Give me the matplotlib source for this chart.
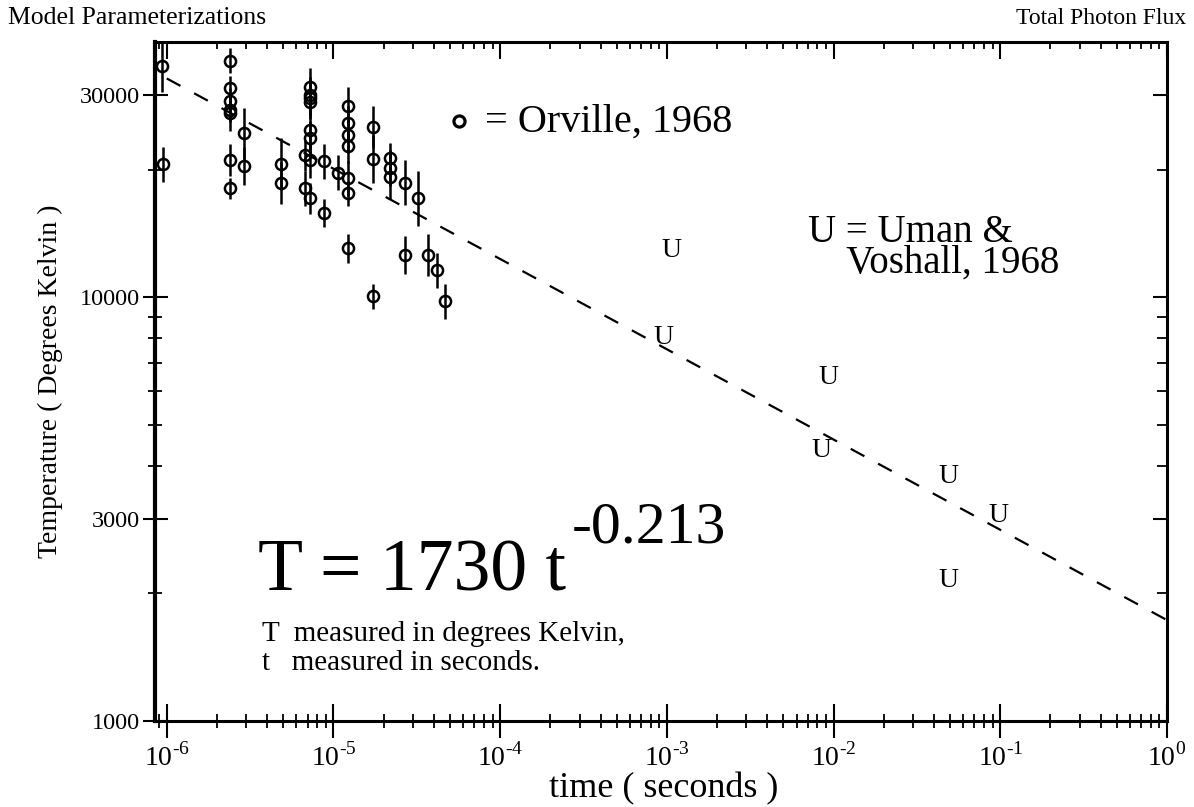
import numpy as np
import matplotlib
matplotlib.use("Agg")
import matplotlib.pyplot as plt
from matplotlib.ticker import FixedLocator, LogLocator, NullFormatter, FuncFormatter

plt.rcParams['font.family'] = ['Liberation Serif', 'DejaVu Serif']
plt.rcParams['mathtext.fontset'] = 'custom'
plt.rcParams['mathtext.rm'] = 'Liberation Serif'

### Data ###
# Orville (1968): time (s), temperature (K), fractional error bar
orville_t = [0.94e-6, 0.95e-6,
             2.4e-6, 2.4e-6, 2.4e-6, 2.4e-6, 2.4e-6, 2.4e-6, 2.4e-6,
             2.9e-6, 2.9e-6,
             4.86e-6, 4.86e-6,
             6.78e-6, 6.78e-6,
             7.24e-6, 7.24e-6, 7.24e-6, 7.24e-6, 7.24e-6, 7.24e-6, 7.24e-6, 7.24e-6,
             8.75e-6, 8.75e-6,
             1.07e-5,
             1.22e-5, 1.22e-5, 1.22e-5, 1.22e-5, 1.22e-5, 1.22e-5, 1.22e-5,
             1.72e-5, 1.72e-5, 1.72e-5,
             2.19e-5, 2.19e-5, 2.19e-5,
             2.69e-5, 2.69e-5,
             3.2e-5, 3.67e-5, 4.18e-5, 4.69e-5]
orville_T = [35100, 20600,
             36100, 31100, 29100, 27650, 27200, 21100, 18050,
             24350, 20380,
             20600, 18600,
             21600, 18050,
             31300, 30000, 29450, 28900, 24800, 23700, 21050, 17100,
             20950, 15800,
             19650,
             28250, 25700, 24130, 22740, 19090, 17570, 13030,
             25250, 21180, 10040,
             21250, 20170, 19230,
             18600, 12560,
             17100, 12560, 11560, 9790]
orville_err = [0.15, 0.10,
               0.07, 0.07, 0.07, 0.07, 0.10, 0.09, 0.06,
               0.15, 0.11,
               0.15, 0.12,
               0.09, 0.10,
               0.11, 0.10, 0.10, 0.10, 0.10, 0.10, 0.10, 0.09,
               0.10, 0.08,
               0.10,
               0.11, 0.10, 0.10, 0.10, 0.10, 0.07, 0.08,
               0.12, 0.14, 0.07,
               0.09, 0.10, 0.13,
               0.13, 0.11,
               0.16, 0.12, 0.10, 0.10]

# Uman & Voshall (1968)
uman_t = [1.06e-3, 0.96e-3, 0.93e-2, 0.84e-2, 0.049, 0.097, 0.049]
uman_T = [12900, 8050, 6450, 4340, 3780, 3060, 2150]

# power law fit T = A * t^B
fit_A = 1730
fit_B = -0.213

x_decades = [-6, -5, -4, -3, -2, -1, 0]
y_major = [1000, 3000, 10000, 30000]
y_minor = [2000, 4000, 5000, 6000, 7000, 8000, 9000, 20000]
y_labels = ["1000", "3000", "10000", "30000"]
##############

x_major = [10.0 ** d for d in x_decades]

fig = plt.figure(figsize=(11.94, 8.07), dpi=100)
ax = fig.add_axes([155 / 1194, 1 - 721 / 807, 1012 / 1194, 679 / 807])
ax.set_xscale('log')
ax.set_yscale('log')
ax.set_xlim(8.5e-7, 1)
ax.set_ylim(1000, 40000)

# error bars + open circles
t = np.array(orville_t)
T = np.array(orville_T)
e = np.array(orville_err)
ax.errorbar(t, T, yerr=[T - T / (1 + e), T * (1 + e) - T], fmt='o',
            mfc='none', mec='black', ms=8, mew=1.8,
            ecolor='black', elinewidth=1.8, capsize=0, zorder=3)

# fitted line
t_fit = np.logspace(-6, 0, 300)
ax.plot(t_fit, fit_A * t_fit ** fit_B, color='black', lw=1.6,
        linestyle=(0, (7, 7)), zorder=2)

for ut, uT in zip(uman_t, uman_T):
    ax.text(ut, uT, 'U', ha='center', va='center', fontsize=20, zorder=4)

# annotations
ax.plot([0.3004], [0.884], 'o', transform=ax.transAxes, mfc='none', mec='black',
        ms=8, mew=2.3)
ax.text(0.326, 0.882, '= Orville, 1968', transform=ax.transAxes,
        ha='left', va='center', fontsize=29)
ax.text(0.645, 0.697, 'U = Uman &\n    Voshall, 1968', transform=ax.transAxes,
        ha='left', va='center', fontsize=28, linespacing=0.78)
ax.text(0.1018, 0.218, 'T = 1730 t', transform=ax.transAxes,
        ha='left', va='center', fontsize=53)
ax.text(0.412, 0.283, '-0.213', transform=ax.transAxes,
        ha='left', va='center', fontsize=43)
ax.text(0.1057, 0.1075, 'T  measured in degrees Kelvin,\nt   measured in seconds.',
        transform=ax.transAxes, ha='left', va='center', fontsize=21, linespacing=1.15)

# ticks
ax.yaxis.set_major_locator(FixedLocator(y_major))
ax.yaxis.set_minor_locator(FixedLocator(y_minor))
ax.yaxis.set_major_formatter(FuncFormatter(lambda v, p: y_labels[y_major.index(round(v))] if round(v) in y_major else ''))
ax.yaxis.set_minor_formatter(NullFormatter())
ax.xaxis.set_major_locator(FixedLocator(x_major))
ax.xaxis.set_minor_locator(LogLocator(base=10, subs=np.arange(2, 10), numticks=10))
ax.xaxis.set_major_formatter(FuncFormatter(lambda v, p: r'10$^{\text{%d}}$' % round(np.log10(v))))
ax.xaxis.set_minor_formatter(NullFormatter())

ax.tick_params(axis='y', which='major', direction='inout', length=18, width=1.5,
               labelsize=17.5, pad=2)
ax.tick_params(axis='y', which='minor', direction='inout', length=10, width=1.3)
ax.tick_params(axis='x', which='major', direction='inout', length=24, width=1.5,
               labelsize=20, pad=4)
ax.tick_params(axis='x', which='minor', direction='inout', length=10, width=1.3)
ax.tick_params(top=False, right=False, which='both')

for side in ['top', 'right', 'bottom']:
    ax.spines[side].set_linewidth(2.2)
ax.spines['left'].set_linewidth(3.0)

# inward ticks on the top and right edges
ax_top = ax.secondary_xaxis('top')
ax_top.xaxis.set_major_locator(FixedLocator(x_major))
ax_top.xaxis.set_minor_locator(LogLocator(base=10, subs=np.arange(2, 10), numticks=10))
ax_top.tick_params(which='major', direction='in', length=12, width=1.5, labeltop=False)
ax_top.tick_params(which='minor', direction='in', length=5, width=1.3)
ax_top.xaxis.set_minor_formatter(NullFormatter())
ax_top.spines['top'].set_visible(False)

ax_right = ax.secondary_yaxis('right')
ax_right.yaxis.set_major_locator(FixedLocator(y_major))
ax_right.yaxis.set_minor_locator(FixedLocator(y_minor))
ax_right.tick_params(which='major', direction='in', length=10, width=1.5, labelright=False)
ax_right.tick_params(which='minor', direction='in', length=7, width=1.3)
ax_right.yaxis.set_minor_formatter(NullFormatter())
ax_right.spines['right'].set_visible(False)

ax.set_xlabel('time ( seconds )', fontsize=26)
ax.xaxis.set_label_coords(0.503, -0.076)
ax.set_ylabel('Temperature ( Degrees Kelvin )', fontsize=20, va='center')
ax.yaxis.set_label_coords(-0.103, 0.5)

fig.text(8 / 1194, 1 - 18 / 807, 'Model Parameterizations', ha='left', va='center', fontsize=18.5)
fig.text(1186 / 1194, 1 - 18 / 807, 'Total Photon Flux', ha='right', va='center', fontsize=17)

fig.savefig('out.png', dpi=100)
